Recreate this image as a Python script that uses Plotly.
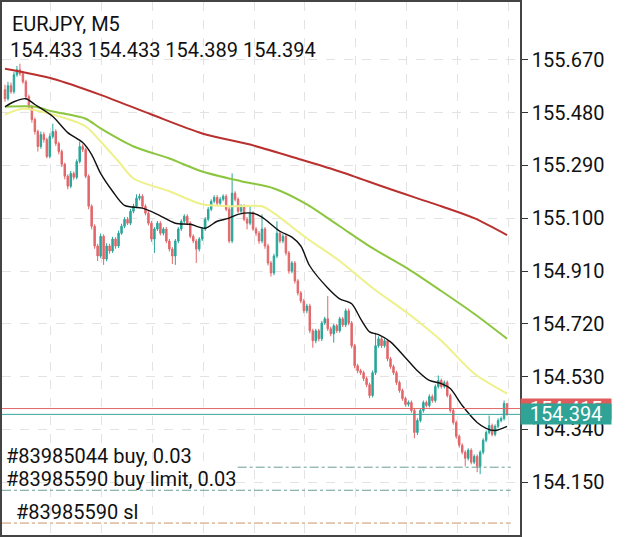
import plotly.graph_objects as go

symbol_title = "EURJPY, M5"
ohlc_text = "154.433 154.433 154.389 154.394"

opens = [
155.562, 155.530, 155.577, 155.555, 155.616, 155.634, 155.620, 155.591, 155.537, 155.501,
155.455, 155.412, 155.358, 155.401, 155.383, 155.322, 155.394, 155.412, 155.369, 155.340,
155.294, 155.251, 155.215, 155.261, 155.247, 155.304, 155.358, 155.347, 155.251, 155.143,
155.071, 155.000, 154.964, 155.035, 154.953, 155.000, 154.982, 155.025, 155.000, 155.046,
155.071, 155.096, 155.082, 155.125, 155.143, 155.172, 155.179, 155.143, 155.118, 155.082,
155.025, 155.061, 155.082, 155.046, 155.061, 155.018, 154.989, 154.964, 155.018, 155.061,
155.089, 155.107, 155.082, 155.035, 155.018, 154.989, 155.025, 155.061, 155.096, 155.132,
155.161, 155.175, 155.154, 155.168, 155.179, 155.132, 155.018, 155.190, 155.168, 155.125,
155.143, 155.096, 155.082, 155.118, 155.061, 155.046, 155.018, 155.061, 155.000, 154.939,
154.903, 154.964, 155.046, 155.018, 155.035, 154.975, 154.910, 154.939, 154.874, 154.831,
154.802, 154.767, 154.784, 154.695, 154.659, 154.695, 154.666, 154.723, 154.738, 154.702,
154.684, 154.713, 154.695, 154.738, 154.716, 154.767, 154.723, 154.641, 154.569, 154.551,
154.544, 154.523, 154.501, 154.462, 154.544, 154.641, 154.666, 154.641, 154.659, 154.594,
154.566, 154.544, 154.509, 154.480, 154.451, 154.430, 154.437, 154.408, 154.329, 154.372,
154.408, 154.437, 154.426, 154.458, 154.444, 154.494, 154.516, 154.494, 154.509, 154.462,
154.408, 154.365, 154.315, 154.283, 154.258, 154.236, 154.265, 154.222, 154.243, 154.207,
154.258, 154.301, 154.329, 154.354, 154.322, 154.351, 154.372, 154.379, 154.433]

closes = [
155.530, 155.577, 155.555, 155.616, 155.634, 155.620, 155.591, 155.537, 155.501, 155.455,
155.412, 155.358, 155.401, 155.383, 155.322, 155.394, 155.412, 155.369, 155.340, 155.294,
155.251, 155.215, 155.261, 155.247, 155.304, 155.358, 155.347, 155.251, 155.143, 155.071,
155.000, 154.964, 155.035, 154.953, 155.000, 154.982, 155.025, 155.000, 155.046, 155.071,
155.096, 155.082, 155.125, 155.143, 155.172, 155.179, 155.143, 155.118, 155.082, 155.025,
155.061, 155.082, 155.046, 155.061, 155.018, 154.989, 154.964, 155.018, 155.061, 155.089,
155.107, 155.082, 155.035, 155.018, 154.989, 155.025, 155.061, 155.096, 155.132, 155.161,
155.175, 155.154, 155.168, 155.179, 155.132, 155.018, 155.190, 155.168, 155.125, 155.143,
155.096, 155.082, 155.118, 155.061, 155.046, 155.018, 155.061, 155.000, 154.939, 154.903,
154.964, 155.046, 155.018, 155.035, 154.975, 154.910, 154.939, 154.874, 154.831, 154.802,
154.767, 154.784, 154.695, 154.659, 154.695, 154.666, 154.723, 154.738, 154.702, 154.684,
154.713, 154.695, 154.738, 154.716, 154.767, 154.723, 154.641, 154.569, 154.551, 154.544,
154.523, 154.501, 154.462, 154.544, 154.641, 154.666, 154.641, 154.659, 154.594, 154.566,
154.544, 154.509, 154.480, 154.451, 154.430, 154.437, 154.408, 154.329, 154.372, 154.408,
154.437, 154.426, 154.458, 154.444, 154.494, 154.516, 154.494, 154.509, 154.462, 154.408,
154.365, 154.315, 154.283, 154.258, 154.236, 154.265, 154.222, 154.243, 154.207, 154.258,
154.301, 154.329, 154.354, 154.322, 154.351, 154.372, 154.379, 154.433, 154.394]

highs = [
155.580, 155.591, 155.588, 155.627, 155.648, 155.656, 155.630, 155.598, 155.545, 155.508,
155.462, 155.419, 155.412, 155.410, 155.390, 155.405, 155.440, 155.420, 155.376, 155.347,
155.300, 155.258, 155.270, 155.268, 155.312, 155.376, 155.366, 155.354, 155.258, 155.150,
155.078, 155.008, 155.045, 155.042, 155.010, 155.008, 155.033, 155.032, 155.055, 155.080,
155.104, 155.104, 155.133, 155.152, 155.186, 155.188, 155.186, 155.150, 155.125, 155.090,
155.068, 155.090, 155.089, 155.068, 155.068, 155.025, 154.996, 155.025, 155.068, 155.096,
155.114, 155.114, 155.089, 155.042, 155.025, 155.032, 155.068, 155.104, 155.140, 155.168,
155.183, 155.183, 155.176, 155.186, 155.186, 155.140, 155.261, 155.197, 155.175, 155.150,
155.150, 155.104, 155.143, 155.125, 155.068, 155.054, 155.114, 155.068, 155.008, 154.946,
154.972, 155.089, 155.054, 155.043, 155.043, 154.982, 154.946, 154.946, 154.881, 154.838,
154.810, 154.792, 154.792, 154.702, 154.702, 154.702, 154.730, 154.745, 154.820, 154.710,
154.720, 154.720, 154.745, 154.745, 154.775, 154.775, 154.730, 154.648, 154.576, 154.558,
154.551, 154.530, 154.508, 154.552, 154.688, 154.675, 154.673, 154.667, 154.666, 154.601,
154.573, 154.551, 154.516, 154.487, 154.458, 154.444, 154.444, 154.415, 154.380, 154.415,
154.444, 154.444, 154.466, 154.466, 154.502, 154.534, 154.523, 154.516, 154.516, 154.469,
154.415, 154.372, 154.322, 154.290, 154.265, 154.272, 154.272, 154.250, 154.250, 154.265,
154.308, 154.336, 154.390, 154.361, 154.358, 154.380, 154.386, 154.444, 154.433]

lows = [
155.519, 155.523, 155.548, 155.548, 155.609, 155.612, 155.584, 155.526, 155.490, 155.444,
155.401, 155.340, 155.350, 155.372, 155.315, 155.315, 155.386, 155.360, 155.330, 155.284,
155.240, 155.204, 155.208, 155.238, 155.240, 155.297, 155.338, 155.244, 155.132, 155.060,
154.990, 154.946, 154.956, 154.932, 154.945, 154.972, 154.975, 154.990, 154.993, 155.040,
155.064, 155.075, 155.075, 155.118, 155.136, 155.164, 155.136, 155.110, 155.074, 155.015,
154.975, 155.054, 155.038, 155.038, 155.010, 154.980, 154.935, 154.932, 155.010, 155.054,
155.082, 155.075, 155.028, 155.010, 154.939, 154.980, 155.018, 155.054, 155.089, 155.125,
155.154, 155.147, 155.147, 155.161, 155.125, 155.010, 155.010, 155.160, 155.118, 155.118,
155.089, 155.060, 155.075, 155.054, 155.036, 155.008, 155.010, 154.990, 154.930, 154.890,
154.895, 154.956, 155.010, 155.010, 154.966, 154.900, 154.902, 154.865, 154.822, 154.794,
154.758, 154.758, 154.686, 154.634, 154.650, 154.657, 154.658, 154.716, 154.694, 154.675,
154.652, 154.687, 154.688, 154.708, 154.708, 154.715, 154.632, 154.560, 154.542, 154.536,
154.514, 154.492, 154.452, 154.455, 154.536, 154.634, 154.633, 154.634, 154.585, 154.558,
154.536, 154.500, 154.472, 154.443, 154.422, 154.422, 154.400, 154.308, 154.320, 154.365,
154.400, 154.419, 154.419, 154.436, 154.436, 154.487, 154.487, 154.487, 154.455, 154.400,
154.357, 154.306, 154.274, 154.250, 154.207, 154.228, 154.214, 154.215, 154.186, 154.179,
154.250, 154.294, 154.322, 154.315, 154.315, 154.344, 154.365, 154.372, 154.389]

# moving averages sampled at bar indices
ma_red_idx = [0, 16, 32, 49, 66, 82, 99, 112, 129, 146, 157, 168]
ma_red_val = [155.638, 155.602, 155.544, 155.473, 155.405, 155.365, 155.311, 155.268, 155.204, 155.143, 155.100, 155.039]

ma_green_idx = [0, 10, 16, 27, 32, 43, 55, 66, 79, 90, 101, 112, 123, 135, 146, 157, 168]
ma_green_val = [155.501, 155.501, 155.484, 155.458, 155.423, 155.358, 155.315, 155.268, 155.233, 155.207, 155.150, 155.071, 154.992, 154.917, 154.838, 154.756, 154.666]

ma_yellow_idx = [0, 6, 16, 27, 32, 38, 43, 55, 66, 77, 86, 90, 101, 112, 123, 135, 146, 157, 168]
ma_yellow_val = [155.473, 155.494, 155.473, 155.430, 155.376, 155.304, 155.243, 155.197, 155.150, 155.143, 155.143, 155.118, 155.028, 154.946, 154.849, 154.756, 154.659, 154.541, 154.469]

ma_black_idx = [0, 3, 7, 10, 16, 21, 26, 29, 32, 36, 40, 46, 51, 57, 62, 67, 71, 75, 78, 83, 86, 92, 96, 99, 102, 108, 112, 116, 119, 122, 125, 129, 134, 138, 142, 146, 149, 153, 158, 161, 164, 168]
ma_black_val = [155.501, 155.519, 155.530, 155.509, 155.466, 155.408, 155.372, 155.329, 155.261, 155.197, 155.146, 155.136, 155.114, 155.082, 155.078, 155.064, 155.089, 155.100, 155.114, 155.118, 155.104, 155.053, 155.032, 155.000, 154.928, 154.849, 154.810, 154.792, 154.738, 154.691, 154.681, 154.655, 154.598, 154.551, 154.516, 154.505, 154.487, 154.426, 154.365, 154.344, 154.336, 154.351]

bid_price = 154.394
ask_price = 154.415
buy_price = 154.204
buy_limit_price = 154.121
sl_price = 154.003

y_ticks = [154.150, 154.340, 154.530, 154.720, 154.910, 155.100, 155.290, 155.480, 155.670]
y_range = [153.960, 155.878]

FONT = "Roboto"
BULL = "#2aa69a"
BEAR = "#e2676a"

x = list(range(len(closes)))

fig = go.Figure()
fig.add_trace(go.Candlestick(
    x=x, open=opens, high=highs, low=lows, close=closes,
    increasing=dict(line=dict(color=BULL, width=1), fillcolor=BULL),
    decreasing=dict(line=dict(color=BEAR, width=1), fillcolor=BEAR),
    whiskerwidth=0, showlegend=False, hoverinfo="skip"))

for idx, val, col, w in [
    (ma_red_idx, ma_red_val, "#b8312f", 2),
    (ma_green_idx, ma_green_val, "#8cc63f", 2),
    (ma_yellow_idx, ma_yellow_val, "#eef08a", 2),
    (ma_black_idx, ma_black_val, "#111111", 1.4),
]:
    fig.add_trace(go.Scatter(x=idx, y=val, mode="lines",
                             line=dict(color=col, width=w, shape="spline", smoothing=0.8),
                             showlegend=False, hoverinfo="skip"))

shapes = [
    dict(type="line", xref="paper", yref="y", x0=0, x1=1, y0=ask_price, y1=ask_price,
         line=dict(color="#e06666", width=1)),
    dict(type="line", xref="paper", yref="y", x0=0, x1=1, y0=bid_price, y1=bid_price,
         line=dict(color="#3aa79b", width=1)),
    dict(type="line", xref="paper", yref="y", x0=0.455, x1=0.982, y0=buy_price, y1=buy_price,
         line=dict(color="#6a9e94", width=1, dash="dashdot")),
    dict(type="line", xref="paper", yref="y", x0=0, x1=0.982, y0=buy_limit_price, y1=buy_limit_price,
         line=dict(color="#6a9e94", width=1, dash="dashdot")),
    dict(type="line", xref="paper", yref="y", x0=0, x1=0.982, y0=sl_price, y1=sl_price,
         line=dict(color="#c9946a", width=1, dash="dashdot")),
]

def ann(text, xp, yp, size=20, color="#111111", **kw):
    d = dict(text=text, xref="paper", yref="paper", x=xp, y=yp, xanchor="left", yanchor="middle",
             showarrow=False, font=dict(family=FONT, size=size, color=color))
    d.update(kw)
    return d

H = 535.0
annotations = [
    ann(symbol_title, 8 / 520, 1 - 22 / H),
    ann(ohlc_text, 6 / 520, 1 - 48 / H),
    ann("#83985044 buy, 0.03", 2 / 520, 1 - 456 / H),
    ann("#83985590 buy limit, 0.03", 2 / 520, 1 - 479 / H),
    ann("#83985590 sl", 12 / 520, 1 - 512 / H),
    dict(text=f"{ask_price:.3f}", xref="paper", yref="y", x=1.0, y=ask_price, xanchor="left",
         yanchor="middle", showarrow=False, bgcolor="#e05c5c", width=90, height=20, borderpad=0,
         font=dict(family=FONT, size=20, color="white")),
    dict(text=f"{bid_price:.3f}", xref="paper", yref="y", x=1.0, y=bid_price, xanchor="left",
         yanchor="middle", showarrow=False, bgcolor="#2ea396", width=90, height=20, borderpad=0,
         font=dict(family=FONT, size=20, color="white")),
]

fig.update_layout(
    width=625, height=537,
    margin=dict(l=0, r=105, t=0, b=2),
    paper_bgcolor="white", plot_bgcolor="white",
    shapes=shapes, annotations=annotations,
    font=dict(family=FONT, size=20, color="#111111"),
    xaxis=dict(range=[-1, 172.33], rangeslider=dict(visible=False), showticklabels=False,
               showgrid=True, gridcolor="#e3e3e3", griddash="dash", gridwidth=1,
               tickmode="linear", tick0=15.33, dtick=17, ticks="",
               showline=True, linecolor="#444444", linewidth=1.5, mirror=True, zeroline=False),
    yaxis=dict(range=y_range, side="right", tickmode="array", tickvals=y_ticks,
               ticktext=[f"{v:.3f}" for v in y_ticks], ticks="outside", ticklen=6,
               tickcolor="#333333", showgrid=True, gridcolor="#e3e3e3", griddash="dash",
               showline=True, linecolor="#444444", linewidth=1.5, mirror=True, zeroline=False,
               tickfont=dict(family=FONT, size=20, color="#111111")),
)

fig.write_html("out.html")
